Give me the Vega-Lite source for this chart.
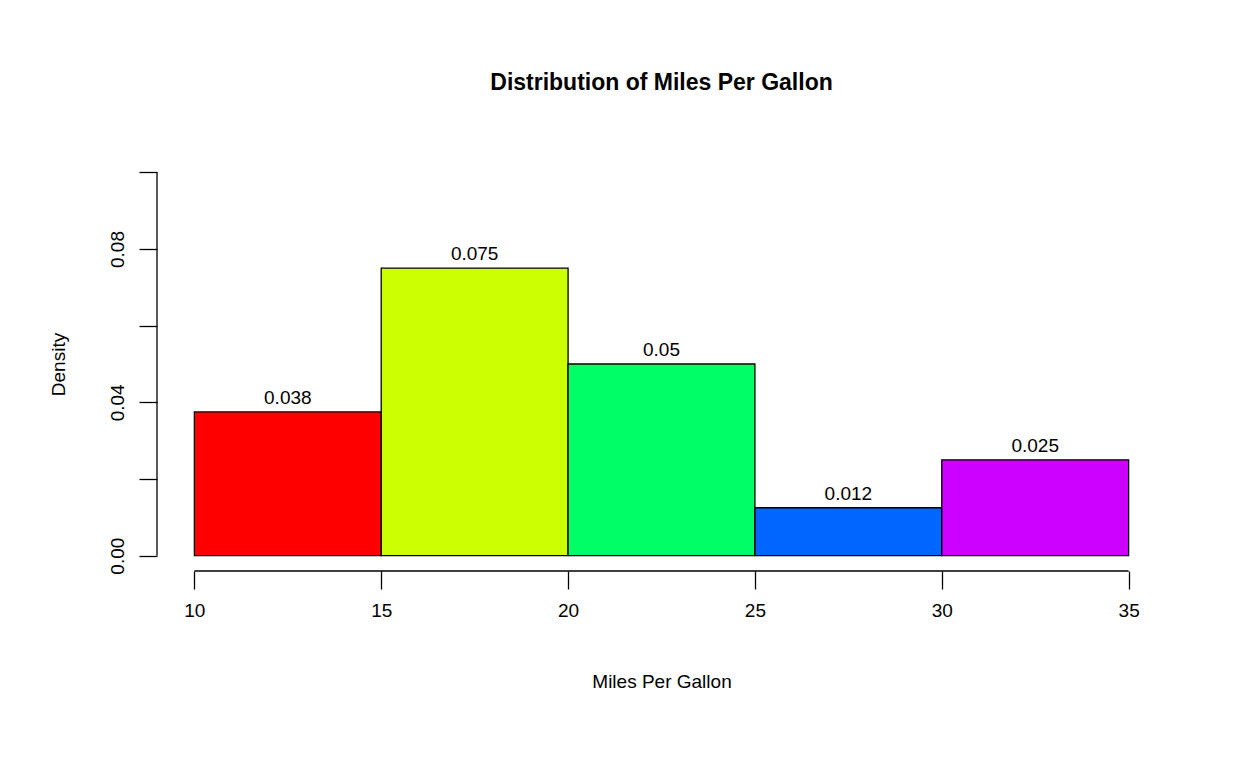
{
"$schema":"https://vega.github.io/schema/vega-lite/v6.json",
"width":1009,"height":414,"autosize":{"type":"none"},
"padding":{"left":157,"top":157,"right":82,"bottom":197},
"background":"white",
"config":{"font":"Liberation Sans","view":{"stroke":null}},
"title":{"text":"Distribution of Miles Per Gallon","fontSize":23,"fontWeight":"bold","font":"Liberation Sans","offset":62,"color":"black"},
"datasets":{
"bins":[{"x0":10,"x1":15,"mid":12.5,"base":0,"d":0.0375,"lab":"0.038","c":"#FF0000"},{"x0":15,"x1":20,"mid":17.5,"base":0,"d":0.075,"lab":"0.075","c":"#CCFF00"},{"x0":20,"x1":25,"mid":22.5,"base":0,"d":0.05,"lab":"0.05","c":"#00FF66"},{"x0":25,"x1":30,"mid":27.5,"base":0,"d":0.0125,"lab":"0.012","c":"#0066FF"},{"x0":30,"x1":35,"mid":32.5,"base":0,"d":0.025,"lab":"0.025","c":"#CC00FF"}],
"yax":[{"x":9,"y0":0,"y1":0.1}],
"xax":[{"xa":10,"xb":35,"y":-0.004}]
},
"layer":[
{"data":{"name":"bins"},"mark":{"type":"rect","stroke":"black","strokeWidth":1.3},
"encoding":{"x":{"field":"x0","type":"quantitative","scale":{"domain":[9,36],"nice":false,"zero":false},
"axis":{"values":[10,15,20,25,30,35],"domain":false,"grid":false,"tickSize":18,"tickColor":"black","tickWidth":1.3,"labelFontSize":19,"labelColor":"black","labelPadding":12,"title":"Miles Per Gallon","titleFontSize":19,"titleFontWeight":"normal","titleColor":"black","titlePadding":52}},
"x2":{"field":"x1"},
"y":{"field":"base","type":"quantitative","scale":{"domain":[-0.004,0.104],"nice":false,"zero":false},
"axis":{"values":[0,0.02,0.04,0.06,0.08,0.1],"labelExpr":"datum.value==0?'0.00':(datum.value==0.04?'0.04':(datum.value==0.08?'0.08':''))","domain":false,"grid":false,"tickSize":18,"tickColor":"black","tickWidth":1.3,"labelFontSize":19,"labelColor":"black","labelAngle":-90,"labelAlign":"center","labelBaseline":"bottom","labelPadding":12,"title":"Density","titleFontSize":19,"titleFontWeight":"normal","titleColor":"black","titlePadding":40}},
"y2":{"field":"d"},
"fill":{"field":"c","type":"nominal","scale":null}}},
{"data":{"name":"bins"},"mark":{"type":"text","fontSize":19,"dy":-4,"baseline":"bottom","color":"black"},
"encoding":{"x":{"field":"mid","type":"quantitative"},"y":{"field":"d","type":"quantitative"},"text":{"field":"lab","type":"nominal"}}},
{"data":{"name":"yax"},"mark":{"type":"rule","color":"black","strokeWidth":1.3},
"encoding":{"x":{"field":"x","type":"quantitative"},"y":{"field":"y0","type":"quantitative"},"y2":{"field":"y1"}}},
{"data":{"name":"xax"},"mark":{"type":"rule","color":"black","strokeWidth":1.3},
"encoding":{"x":{"field":"xa","type":"quantitative"},"x2":{"field":"xb"},"y":{"field":"y","type":"quantitative"}}}
]
}
